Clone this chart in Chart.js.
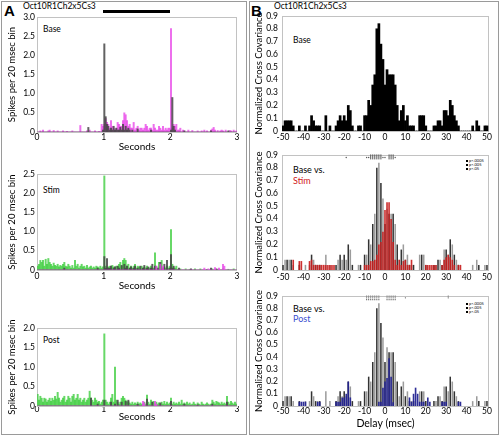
<!DOCTYPE html>
<html><head><meta charset="utf-8">
<script src="https://cdn.jsdelivr.net/npm/chart.js@4.4.1/dist/chart.umd.min.js"></script>
<style>
html,body{margin:0;padding:0;background:#fff;}
body{width:500px;height:436px;position:relative;overflow:hidden;font-family:Lato,'Open Sans',sans-serif;color:#000;}
.frame{position:absolute;border:1px solid #9a9a9a;box-sizing:border-box;}
.lbl{position:absolute;white-space:nowrap;line-height:1;}
canvas{position:absolute;}
.lg{position:absolute;font-size:4px;line-height:1;white-space:nowrap;}
.lg i{display:inline-block;width:2px;height:2px;background:#000;margin-right:1px;vertical-align:middle;}
.ytk{position:absolute;width:30px;font-size:8.5px;line-height:9px;white-space:nowrap;text-align:right;color:#000;z-index:5;}
</style></head><body>
<div class="frame" style="left:1px;top:1px;width:246px;height:434px"></div>
<div class="frame" style="left:249px;top:1px;width:250px;height:434px"></div>
<div class="lbl" style="left:4px;top:2px;font:bold 15px 'Liberation Sans',Arial,sans-serif">A</div>
<div class="lbl" style="left:251px;top:2px;font:bold 15px 'Liberation Sans',Arial,sans-serif">B</div>
<div class="lbl" style="left:23px;top:2px;font-size:8.5px">Oct10R1Ch2x5Cs3</div>
<div class="lbl" style="left:274px;top:2px;font-size:8.5px">Oct10R1Ch2x5Cs3</div>
<div style="position:absolute;left:103px;top:10px;width:67px;height:3px;background:#000"></div>
<div class="lbl" style="left:43px;top:25px;font-size:8.5px">Base</div>
<div class="lbl" style="left:43px;top:186px;font-size:8.5px">Stim</div>
<div class="lbl" style="left:43px;top:336px;font-size:8.5px">Post</div>
<div class="lbl" style="left:293px;top:36px;font-size:8.5px">Base</div>
<div class="lbl" style="left:293px;top:165px;font-size:9px">Base vs.</div>
<div class="lbl" style="left:293px;top:176px;font-size:9px;color:#d01818">Stim</div>
<div class="lbl" style="left:293px;top:304px;font-size:9px">Base vs.</div>
<div class="lbl" style="left:293px;top:314px;font-size:9px;color:#3a4fd0">Post</div>
<div class="lg" style="left:466px;top:159px"><i></i>p&lt;.0005</div>
<div class="lg" style="left:466px;top:163px"><i></i>p&lt;.005</div>
<div class="lg" style="left:466px;top:167px"><i></i>p&lt;.05</div>
<div class="lg" style="left:466px;top:302px"><i></i>p&lt;.0005</div>
<div class="lg" style="left:466px;top:306px"><i></i>p&lt;.005</div>
<div class="lg" style="left:466px;top:310px"><i></i>p&lt;.05</div>
<canvas id="cTL"></canvas><canvas id="cML"></canvas><canvas id="cBL"></canvas>
<canvas id="cTR"></canvas><canvas id="cMR"></canvas><canvas id="cBR"></canvas>
<div id="ytl"></div>
<script>
// ---------- tick labels ----------
const timeTicks = [0, 1, 2, 3];
const delayTicks = [-50, -40, -30, -20, -10, 0, 10, 20, 30, 40, 50];
const baseRateTicks = [0, 0.5, 1, 1.5, 2, 2.5, 3];
const stimRateTicks = [0, 0.5, 1, 1.5, 2, 2.5];
const postRateTicks = [0, 0.5, 1, 1.5, 2];
const covTicks = [0, 0.1, 0.2, 0.3, 0.4, 0.5, 0.6, 0.7, 0.8, 0.9];
const binSec = 0.02;          // 20 msec bins, 0..3 s
const firstDelay = -50;       // 1 msec bins, -50..50

// ---------- PSTH values (150 bins of 20 msec) ----------
const baseMagenta = [0,0,0.03,0,0.05,0,0,0,0.03,0.05, 0,0,0.04,0,0,0.03,0,0,0,0.03, 0,0,0.02,0,0,0,0.03,0,0,0, 0,0,0.17,0,0,0,0,0.03,0,0.05, 0,0,0,0.03,0,0,0.02,0,0.2,0.15,
 0.2,0.35,0.25,0.2,0.1,0.3,0.15,0.1,0.05,0.1, 0.25,0.2,0.15,0.15,0.3,0.5,0.45,0.3,0.15,0.2, 0.1,0.1,0.25,0.05,0.1,0.15,0.05,0.1,0.1,0.05, 0.1,0.2,0.15,0.05,0.1,0.1,0.05,0.2,0.1,0.05, 0.05,0.15,0.1,0.05,0.15,0.05,0.1,0.05,0.1,0.1,
 2.7,0.1,0.2,0.15,0.2,0.05,0.05,0.1,0,0.05, 0.03,0,0,0.05,0,0,0.04,0,0,0, 0.03,0,0,0.03,0,0.05,0,0.03,0,0, 0.05,0.08,0.12,0.05,0,0.04,0,0.03,0.05,0.03, 0,0.05,0,0,0.04,0.03,0,0.05,0,0.03];
const baseDark = [0,0,0,0,0,0,0,0,0,0, 0,0,0,0,0,0,0,0,0,0, 0,0,0,0,0,0,0,0,0,0, 0,0,0,0,0,0,0,0,0.12,0, 0,0,0,0,0,0,0,0,0,0.05,
 2.3,0.4,0.2,0.15,0.05,0.1,0.05,0.15,0.05,0.1, 0.05,0.05,0.12,0.05,0.2,0.05,0.15,0.05,0.1,0.05, 0,0.05,0,0,0,0.08,0,0,0,0, 0,0,0,0,0,0.05,0,0,0,0, 0,0,0,0,0,0,0,0,0,0,
 0.05,0.9,0.15,0.05,0,0,0,0,0,0, 0.03,0,0,0,0,0,0,0,0,0, 0,0,0,0,0,0,0,0,0,0, 0.03,0,0,0,0,0,0,0,0,0, 0,0,0,0.03,0,0,0,0,0,0];
const stimGreen = [0.1,0.15,0.25,0.2,0.25,0.1,0.28,0.15,0.3,0.2, 0.15,0.1,0.18,0.12,0.1,0.15,0.08,0.12,0.1,0.15, 0.2,0.1,0.08,0.15,0.1,0.05,0.12,0.05,0.25,0.1, 0.15,0.05,0.1,0.15,0.08,0.1,0.05,0.12,0.05,0.08, 0.1,0.05,0.08,0.05,0.1,0.08,0.05,0.1,0.05,0.08,
 2.45,0.1,0.05,0.08,0.1,0.05,0.12,0.08,0.05,0.1, 0.1,0.15,0.2,0.1,0.25,0.3,0.25,0.1,0.15,0.05, 0.1,0.05,0.1,0.15,0.05,0.1,0.08,0.05,0.1,0.05, 0.08,0.05,0.1,0.05,0.05,0.1,0.05,0.05,0.45,0.1, 0.05,0.2,0.1,0.25,0.05,0.08,0.05,0.1,0.05,0.1,
 1.05,0.15,0.05,0.05,0.1,0.02,0,0.03,0,0, 0,0.03,0,0,0.02,0,0,0,0.03,0, 0,0,0.03,0,0,0,0,0.02,0,0, 0,0.03,0,0,0,0.02,0,0,0,0.03, 0,0,0,0.02,0,0,0,0.03,0,0];
const stimDark = [0,0,0,0,0,0,0,0,0,0, 0,0,0,0,0,0,0,0,0,0, 0.05,0,0,0,0,0,0,0,0,0, 0,0,0,0,0,0,0,0,0,0, 0,0,0,0,0,0.05,0,0,0,0,
 0.35,0.05,0.3,0.05,0.05,0.1,0,0.05,0.08,0, 0.1,0.05,0,0.12,0,0.15,0.05,0.1,0,0.05, 0.08,0,0.05,0.1,0,0.05,0,0.1,0,0.05, 0.12,0,0.05,0.08,0,0.05,0.15,0,0.1,0, 0.05,0,0.2,0,0.05,0.15,0,0.25,0,0.05,
 0.4,0.05,0.1,0,0,0,0.05,0,0,0, 0,0,0,0,0,0.03,0,0,0,0, 0,0,0,0,0,0,0,0,0,0, 0.05,0,0,0,0.03,0,0,0,0,0, 0,0,0,0,0,0,0,0,0,0];
const stimMagenta = [0,0,0,0,0,0,0,0,0,0, 0,0,0,0,0,0,0,0,0,0, 0,0,0,0,0,0,0,0,0,0, 0,0,0,0,0,0,0,0,0,0, 0,0,0,0,0,0,0,0,0,0,
 0,0,0,0,0,0,0,0,0,0, 0,0,0,0,0,0,0,0,0,0, 0,0,0,0,0,0,0,0,0,0, 0,0,0,0,0,0,0,0,0,0.1, 0,0,0.15,0,0.1,0,0,0,0,0,
 0,0,0,0,0,0,0,0,0,0, 0,0,0,0,0,0,0,0,0,0, 0,0,0,0,0,0.05,0,0,0.03,0, 0,0,0,0.06,0,0,0.05,0,0,0.15, 0.1,0,0,0,0,0,0,0,0,0];
const postGreen = [0.3,0.15,0.25,0.2,0.1,0.2,0.18,0.1,0.15,0.2, 0.12,0.2,0.15,0.25,0.18,0.35,0.2,0.1,0.15,0.2, 0.25,0.1,0.15,0.25,0.2,0.1,0.25,0.3,0.15,0.2, 0.3,0.15,0.2,0.1,0.15,0.2,0.1,0.15,0.2,0.38, 0.2,0.15,0.1,0.2,0.15,0.1,0.12,0.05,0.1,0.15,
 1.85,0.15,0.1,0.05,0.1,0.2,0.3,0.1,1.0,0.15, 0.1,0.05,0.1,0.2,0.25,0.2,0.15,0.1,0.12,0.08, 0.05,0.1,0.05,0.08,0.05,0.1,0.05,0.08,0.05,0.05, 0.1,0.05,0.28,0.1,0.05,0.15,0.1,0.12,0.05,0.1, 0.05,0.08,0.05,0.1,0.05,0.12,0.05,0.1,0.05,0.08,
 0.2,0.05,0.1,0.05,0.08,0.05,0.1,0.05,0.15,0.05, 0.08,0.05,0.1,0.05,0.08,0.03,0.05,0.1,0.05,0.03, 0.08,0.05,0.03,0.1,0.05,0.03,0.05,0.08,0.05,0.03, 0.05,0.15,0.1,0.05,0.12,0.1,0.08,0.05,0.1,0.05, 0.08,0.05,0.25,0.1,0.05,0.12,0.08,0.05,0.1,0.05];
const postDark = [0,0,0,0,0,0,0,0,0,0, 0,0,0,0,0,0,0,0,0,0, 0,0,0,0,0,0,0,0,0,0, 0,0,0,0,0,0,0,0,0,0, 0.2,0,0,0,0,0.05,0,0,0,0,
 0.15,0,0,0,0,0.1,0,0,0.05,0, 0.15,0,0,0.1,0,0,0.12,0,0.15,0, 0,0,0,0,0,0.05,0,0,0,0, 0,0,0.18,0,0,0,0.1,0,0,0, 0,0,0.08,0,0,0,0,0,0,0,
 0.12,0,0,0,0,0,0,0,0,0, 0.05,0,0,0,0,0,0,0,0,0, 0.03,0,0,0,0,0,0,0,0,0, 0,0.05,0,0,0,0,0,0,0,0, 0,0,0.1,0,0,0,0,0,0,0];
const postMagenta = [0,0,0,0,0,0,0,0,0,0, 0,0,0,0,0,0,0,0,0,0, 0,0,0,0,0,0,0,0,0,0, 0,0,0,0,0,0,0,0,0,0, 0,0,0,0,0,0,0,0,0,0,
 0,0,0,0,0,0,0,0,0,0, 0,0,0,0,0,0,0,0,0,0, 0,0,0,0,0,0,0,0,0,0.12, 0.08,0,0,0,0,0,0,0,0.12,0.05, 0,0,0,0,0,0,0,0,0,0,
 0,0,0,0,0,0,0,0,0,0, 0,0,0,0,0,0,0,0,0,0, 0,0,0,0,0,0,0,0,0,0, 0,0,0,0,0,0,0,0,0,0, 0,0,0,0,0,0,0,0,0,0];

// ---------- cross covariance values (delay -50..50 msec) ----------
const baseCov = [0.04,0.08,0.08,0.08,0.08,0.04,0,0,0.04,0, 0,0.04,0,0.04,0.12,0.08,0.04,0.04,0.04,0, 0,0.12,0,0.04,0,0,0.04,0.08,0.12,0.08, 0.12,0.08,0.2,0.16,0.04,0,0,0.04,0.04,0, 0.12,0.12,0.24,0.2,0.36,0.44,0.8,0.84,0.68,0.56,
 0.36,0.48,0.44,0.44,0.44,0.36,0.2,0.08,0.16,0.2, 0.08,0.12,0.04,0.04,0.04,0,0,0.12,0.12,0.12, 0.04,0,0,0,0.04,0.04,0.08,0.08,0.04,0.16, 0.16,0.12,0.24,0.2,0.12,0.08,0.04,0,0,0, 0,0,0,0.04,0,0.08,0.04,0,0,0.04, 0.04];
const stimCov = [0,0,0,0,0,0.08,0,0,0.07,0.07, 0,0,0,0.07,0.08,0.04,0.04,0.04,0.04,0.04, 0.04,0.04,0.04,0.04,0.04,0.04,0,0,0,0, 0,0,0,0,0,0,0,0,0,0, 0.04,0.04,0.04,0.07,0.07,0.08,0.12,0.2,0.22,0.3,
 0.47,0.53,0.53,0.4,0.22,0.08,0.04,0.08,0.04,0.07, 0.08,0.04,0.04,0.08,0,0,0,0,0,0, 0.04,0.04,0.04,0.04,0.04,0.04,0,0,0.04,0.08, 0.1,0.12,0.1,0.08,0.04,0,0.04,0.04,0,0, 0,0,0,0,0,0,0,0,0,0, 0];
const postCov = [0,0,0,0,0,0,0,0,0.035,0.035, 0.035,0.035,0,0,0,0,0,0.035,0.035,0, 0,0,0,0,0,0,0.035,0.035,0.035,0.07, 0.07,0.1,0.2,0.07,0,0,0,0,0,0, 0,0,0,0,0,0,0,0.035,0.035,0.15,
 0.2,0.23,0.39,0.24,0.03,0,0,0,0,0, 0,0,0.07,0.035,0.1,0.15,0.1,0.035,0.035,0.035, 0,0.07,0.035,0,0,0,0,0,0.035,0.035, 0.035,0,0,0,0,0,0.035,0.035,0,0, 0,0,0,0,0,0,0,0,0,0, 0];

// ---------- significance marks (delay, msec) ----------
const stimSigStrong = [-7, -6, -5, -4, -3, -2, 2, 3, 4];
const stimSigWeak = [-19, -9, -8, -1, 0, 5];
const postSigRow1 = [-9, -8, -7, -6, -5, -4, -3, 1, 2, 3, 4, 5, 31];
const postSigRow2 = [-9, -8, -7, -6, -5, -4, -3, 1, 2, 3, 4, 5, 10, 31];
const postSigRow3 = [-9, -8, -7, -6, -5, -4, -3, 1, 2, 3, 4, 5];

// ---------- helpers ----------
const FONT = "Lato, 'Open Sans', sans-serif";
const boxPlugin = {
  id: 'boxPlugin',
  beforeDatasetsDraw(c) {
    const a = c.chartArea, x = c.ctx;
    x.save(); x.strokeStyle = '#c2c2c2'; x.lineWidth = 1;
    x.strokeRect(Math.round(a.left) + 0.5, Math.round(a.top) + 0.5, Math.round(a.right - a.left) - 1, Math.round(a.bottom - a.top));
    x.restore();
  }
};
const fmt = v => (v === 0 ? '0' : Number(v).toFixed(1));

function psth(vals, color, order) {
  return { type: 'bar', data: vals.map((v, i) => ({ x: i * binSec + binSec / 2, y: v })),
    backgroundColor: color, grouped: false, barPercentage: 1, categoryPercentage: 1, order };
}
function cov(vals, color, order, bp) {
  return { type: 'bar', data: vals.map((v, i) => ({ x: firstDelay + i, y: v })),
    backgroundColor: color, grouped: false, barPercentage: bp, categoryPercentage: 1, order };
}
function marks(xs, yv, style, r) {
  return { type: 'scatter', data: xs.map(v => ({ x: v, y: yv })), pointStyle: style, rotation: 90,
    radius: r, borderColor: '#555', backgroundColor: '#555', borderWidth: style === 'line' ? 1 : 0, clip: false, order: -1 };
}

const ytkHost = document.getElementById('ytl');
function makeChart(id, box, area, c) {
  const cv = document.getElementById(id);
  cv.style.left = box.left + 'px'; cv.style.top = box.top + 'px';
  cv.width = box.w; cv.height = box.h;
  const padTop = area.T - box.top, padRight = box.left + box.w - area.R;
  const yW = area.L - box.left, xH = box.top + box.h - area.B;
  let ch = null;
  try {
    ch = new Chart(cv, {
      type: 'bar',
      data: { datasets: c.datasets },
      options: {
        responsive: false, animation: false, events: [],
        layout: { padding: { top: padTop, right: padRight, left: 0, bottom: 0 } },
        plugins: { legend: { display: false }, tooltip: { enabled: false } },
        scales: {
          x: { type: 'linear', min: c.xmin, max: c.xmax, offset: false,
            grid: { display: false, drawTicks: false }, border: { display: false },
            ticks: { padding: c.xpad, color: '#000', maxRotation: 0, autoSkip: false,
              font: { family: FONT, size: 8.5, lineHeight: 1 }, callback: v => String(v) },
            afterBuildTicks: s => { s.ticks = c.xticks.map(v => ({ value: v })); },
            afterFit: s => { s.height = xH; },
            title: { display: !!c.xtitle, text: c.xtitle || '', color: '#000', padding: { top: 0, bottom: 0 },
              font: { family: FONT, size: c.xtitleSize || 10 } } },
          y: { type: 'linear', min: 0, max: c.ymax,
            grid: { display: false, drawTicks: false }, border: { display: false },
            ticks: { display: false, padding: c.ypad, autoSkip: false, callback: fmt },
            afterBuildTicks: s => { s.ticks = c.yticks.map(v => ({ value: v })); },
            afterFit: s => { s.width = yW; },
            title: { display: true, text: c.ytitle, color: '#000', padding: { top: c.ytpad, bottom: 0 },
              font: { family: FONT, size: 9.5 } } }
        }
      },
      plugins: [boxPlugin]
    });
  } catch (e) { ch = null; }
  // y tick labels: positions taken from the chart's y scale (falls back to the plot box)
  const yS = ch && ch.scales ? ch.scales.y : null;
  c.yticks.forEach(v => {
    let py = yS ? yS.getPixelForValue(v) : NaN;
    if (!Number.isFinite(py)) py = (area.T - box.top) + (1 - v / c.ymax) * (area.B - area.T);
    let rx = yS ? yS.right : NaN;
    if (!Number.isFinite(rx) || rx < 5) rx = yW;
    const d = document.createElement('div');
    d.className = 'ytk';
    d.textContent = fmt(v);
    d.style.left = (box.left + rx - c.ypad - 30) + 'px';
    d.style.top = (box.top + py - 4.5) + 'px';
    ytkHost.appendChild(d);
  });
}

const MAG = 'rgba(232,70,232,0.78)';
const DARK = 'rgba(70,70,70,0.85)';
const GREEN = 'rgba(60,205,60,0.78)';
const spikeTitle = 'Spikes per 20 msec bin';
const covTitle = 'Normalized Cross Covariance';
const altGrey = baseCov.map((v, i) => (i % 2 === 0 ? '#333333' : '#9c9c9c'));

// ----- Panel A -----
makeChart('cTL', { left: 3, top: 5, w: 241, h: 148 }, { L: 37, T: 17, R: 237, B: 132 }, {
  datasets: [psth(baseDark, DARK, 0), psth(baseMagenta, MAG, 1)],
  xmin: 0, xmax: 3, xticks: timeTicks, xpad: 1, xtitle: 'Seconds',
  ymax: 3, yticks: baseRateTicks, ypad: 2, ytitle: spikeTitle, ytpad: 3 });
makeChart('cML', { left: 3, top: 158, w: 241, h: 134 }, { L: 37, T: 174, R: 237, B: 270 }, {
  datasets: [psth(stimMagenta, MAG, 0), psth(stimDark, DARK, 1), psth(stimGreen, GREEN, 2)],
  xmin: 0, xmax: 3, xticks: timeTicks, xpad: 2, xtitle: 'Seconds',
  ymax: 2.5, yticks: stimRateTicks, ypad: 2, ytitle: spikeTitle, ytpad: 3 });
makeChart('cBL', { left: 3, top: 315, w: 241, h: 108 }, { L: 37, T: 328, R: 237, B: 406 }, {
  datasets: [psth(postMagenta, MAG, 0), psth(postDark, DARK, 1), psth(postGreen, GREEN, 2)],
  xmin: 0, xmax: 3, xticks: timeTicks, xpad: -1, xtitle: 'Seconds',
  ymax: 2, yticks: postRateTicks, ypad: 2, ytitle: spikeTitle, ytpad: 3 });

// ----- Panel B -----
makeChart('cTR', { left: 251, top: 5, w: 246, h: 140 }, { L: 282, T: 16, R: 489, B: 131 }, {
  datasets: [cov(baseCov, '#000', 1, 1)],
  xmin: -50.5, xmax: 51, xticks: delayTicks, xpad: 2,
  ymax: 0.9, yticks: covTicks, ypad: 4, ytitle: covTitle, ytpad: 2 });
makeChart('cMR', { left: 251, top: 148, w: 246, h: 137 }, { L: 282, T: 155, R: 489, B: 270 }, {
  datasets: [cov(stimCov, 'rgba(200,30,30,0.92)', 0, 0.8), cov(baseCov, altGrey, 1, 0.75),
    marks(stimSigStrong, 0.885, 'line', 2.5), marks(stimSigWeak, 0.88, 'circle', 0.7)],
  xmin: -50.5, xmax: 51, xticks: delayTicks, xpad: 3,
  ymax: 0.9, yticks: covTicks, ypad: 4, ytitle: covTitle, ytpad: 2 });
makeChart('cBR', { left: 251, top: 288, w: 246, h: 142 }, { L: 282, T: 296, R: 489, B: 406 }, {
  datasets: [cov(postCov, 'rgba(35,35,145,0.95)', 0, 0.8), cov(baseCov, altGrey, 1, 0.75),
    marks(postSigRow1, 0.9, 'circle', 0.6), marks(postSigRow2, 0.885, 'circle', 0.6), marks(postSigRow3, 0.87, 'circle', 0.6)],
  xmin: -50.5, xmax: 51, xticks: delayTicks, xpad: 1, xtitle: 'Delay (msec)', xtitleSize: 10.5,
  ymax: 0.9, yticks: covTicks, ypad: 4, ytitle: covTitle, ytpad: 2 });
</script>
</body></html>
